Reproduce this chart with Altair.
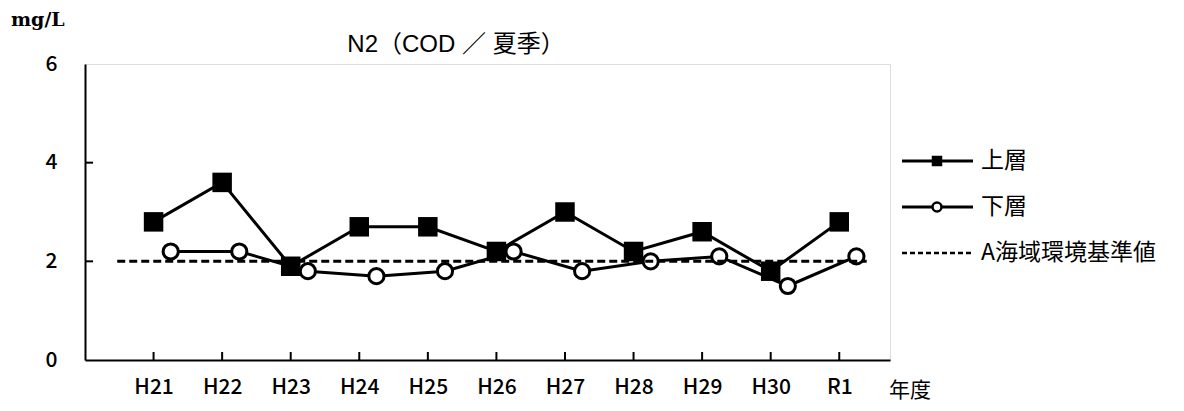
import altair as alt
import pandas as pd

years = ["H21", "H22", "H23", "H24", "H25", "H26", "H27", "H28", "H29", "H30", "R1"]
upper = [2.8, 3.6, 1.9, 2.7, 2.7, 2.2, 3.0, 2.2, 2.6, 1.8, 2.8]
lower = [2.2, 2.2, 1.8, 1.7, 1.8, 2.2, 1.8, 2.0, 2.1, 1.5, 2.1]
standard_pos = [0.47, 11.4]
standard_val = [2.0, 2.0]
y_ticks = [0, 2, 4, 6]
legend_labels = ["上層", "下層", "A海域環境基準値"]
title_text = "N2（COD ／ 夏季）"
unit_text = "mg/L"
x_title = "年度"

W, H = 805, 296
JP = "Noto Sans CJK JP"
TITLE_FONT = "Liberation Sans, Noto Sans CJK JP"

positions = list(range(1, len(years) + 1))
label_expr = "[" + ",".join("'" + y + "'" for y in years) + "][datum.value - 1]"

df_u = pd.DataFrame({"pos": positions, "year": years, "value": upper})
df_l = pd.DataFrame({"idx": positions, "year": years, "value": lower})
df_s = pd.DataFrame({"pos": standard_pos, "value": standard_val})
df_xt = pd.DataFrame({"pos": positions})
df_yt = pd.DataFrame({"value": [v for v in y_ticks if 0 < v < 6]})

x_enc = alt.X(
    "pos:Q",
    scale=alt.Scale(domain=[0, 11.74], nice=False, zero=False),
    axis=alt.Axis(
        values=positions, labelExpr=label_expr, title=None, grid=False, ticks=False,
        domainColor="black", domainWidth=2, labelFont=JP, labelFontSize=21,
        labelFontWeight=500, labelColor="black", labelPadding=16, labelAngle=0,
    ),
)
y_enc = alt.Y(
    "value:Q",
    scale=alt.Scale(domain=[0, 6], nice=False),
    axis=alt.Axis(
        values=y_ticks, title=None, grid=False, ticks=False, domainColor="black",
        domainWidth=2, labelFont=JP, labelFontSize=21, labelFontWeight=500,
        labelColor="black", labelPadding=28, format="d",
    ),
)

upper_line = alt.Chart(df_u).mark_line(color="black", strokeWidth=3).encode(x=x_enc, y=y_enc)
upper_pts = alt.Chart(df_u).mark_point(
    shape="square", filled=True, color="black", size=380, opacity=1
).encode(x=x_enc, y=y_enc)

lower_base = alt.Chart(df_l).transform_calculate(pos="datum.idx + 0.25")
lower_line = lower_base.mark_line(color="black", strokeWidth=3).encode(x=x_enc, y=y_enc)
lower_pts = lower_base.mark_point(
    shape="circle", filled=True, fill="white", stroke="black", strokeWidth=3,
    size=230, opacity=1
).encode(x=x_enc, y=y_enc)

std_line = alt.Chart(df_s).mark_line(
    color="black", strokeWidth=3, strokeDash=[8, 4]
).encode(x=x_enc, y=y_enc)

xticks = alt.Chart(df_xt).mark_rule(color="black", strokeWidth=2).encode(
    x=x_enc, y=alt.value(H), y2=alt.value(H - 8)
)
yticks = alt.Chart(df_yt).mark_rule(color="black", strokeWidth=2).encode(
    y=y_enc, x=alt.value(0), x2=alt.value(8)
)

title = alt.Chart(pd.DataFrame({"t": [title_text]})).mark_text(
    font=TITLE_FONT, fontSize=24, color="black", align="center", baseline="middle"
).encode(x=alt.value(371), y=alt.value(-19), text="t:N")

unit = alt.Chart(pd.DataFrame({"t": [unit_text]})).mark_text(
    font="DejaVu Serif", fontWeight="bold", fontSize=19, color="black",
    align="left", baseline="middle"
).encode(x=alt.value(-74), y=alt.value(-44), text="t:N")

xlab = alt.Chart(pd.DataFrame({"t": [x_title]})).mark_text(
    font=JP, fontSize=21, color="black", align="center",
    baseline="middle"
).encode(x=alt.value(825), y=alt.value(327), text="t:N")

legend_layers = []
for i, lab in enumerate(legend_labels):
    yy = 97 + 46 * i
    d = pd.DataFrame({"t": [lab]})
    if i < 2:
        legend_layers.append(
            alt.Chart(d).mark_rule(color="black", strokeWidth=3).encode(
                x=alt.value(817), x2=alt.value(888), y=alt.value(yy)
            )
        )
        if i == 0:
            legend_layers.append(
                alt.Chart(d).mark_point(shape="square", filled=True, color="black",
                                        size=110, opacity=1).encode(
                    x=alt.value(852), y=alt.value(yy)
                )
            )
        else:
            legend_layers.append(
                alt.Chart(d).mark_point(shape="circle", filled=True, fill="white",
                                        stroke="black", strokeWidth=2.5, size=80,
                                        opacity=1).encode(
                    x=alt.value(852), y=alt.value(yy)
                )
            )
    else:
        legend_layers.append(
            alt.Chart(d).mark_rule(color="black", strokeWidth=2.5, strokeDash=[5, 3]).encode(
                x=alt.value(817), x2=alt.value(888), y=alt.value(yy)
            )
        )
    legend_layers.append(
        alt.Chart(d).mark_text(font=JP, fontSize=23, color="black",
                               align="left", baseline="middle").encode(
            x=alt.value(896), y=alt.value(yy), text="t:N"
        )
    )

chart = alt.layer(
    xticks, yticks, upper_line, upper_pts, lower_line, lower_pts, std_line,
    title, unit, xlab, *legend_layers
).properties(
    width=W, height=H,
    autosize=alt.AutoSizeParams(type="none"),
    padding={"left": 77, "top": 56, "right": 286, "bottom": 43},
).configure_view(
    stroke="black", strokeWidth=2
).configure(background="white")

chart.save("out.html", embed_options={"renderer": "svg", "actions": False})
